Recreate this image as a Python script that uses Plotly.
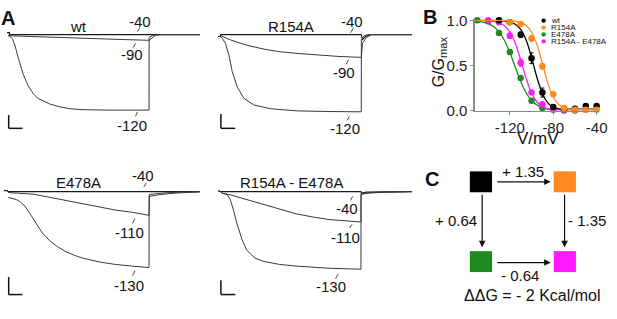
import plotly.graph_objects as go

W, H = 617, 319
FONT = "Liberation Sans, Arial, sans-serif"


def px(x):
    return x / W


def py(y):
    return 1 - y / H


# ---------------- Panel A data (time in ms, current in nA) ----------------
wt_t_m40 = [-12, 12, 14, 1940]
wt_i_m40 = [0.2, 0.2, 0.0, 0.0]
wt_t_m90 = [0, 200, 500, 800, 1100, 1427, 1450, 1490, 1540, 1940]
wt_i_m90 = [-0.12, -0.2, -0.3, -0.4, -0.5, -0.6, -0.45, -0.1, 0.0, 0.0]
wt_t_m120 = [0, 20, 45, 70, 103, 153, 203, 253, 300, 353, 420, 520, 620, 750, 1000, 1427, 1428, 1460, 1500, 1940]
wt_i_m120 = [-0.1, -0.2, -0.5, -1.2, -2.5, -4.2, -5.4, -6.2, -6.7, -7.0, -7.3, -7.6, -7.8, -7.9, -7.95, -7.95, -0.3, -0.1, 0.0, 0.0]

r_t_m40 = [-25, 0, 3, 1427, 1440, 1470, 1520, 1940]
r_i_m40 = [-0.2, -0.2, 0.0, 0.0, -0.5, -0.2, 0.0, 0.0]
r_t_m90 = [0, 100, 200, 300, 450, 600, 800, 1000, 1200, 1427, 1440, 1480, 1530, 1940]
r_i_m90 = [-0.1, -0.55, -0.9, -1.2, -1.55, -1.8, -2.0, -2.17, -2.3, -2.4, -0.9, -0.3, 0.0, 0.0]
r_t_m120 = [0, 20, 50, 87, 120, 170, 237, 337, 503, 770, 1100, 1427, 1428, 1460, 1500, 1940]
r_i_m120 = [-0.2, -0.4, -0.9, -2.2, -3.9, -5.5, -6.7, -7.4, -7.8, -8.03, -8.1, -8.13, -0.5, -0.1, 0.0, 0.0]

e_t_m40 = [-45, -10, 0, 1940]
e_i_m40 = [0.1, 0.1, 0.0, 0.0]
e_t_m110 = [0, 253, 420, 587, 750, 920, 1090, 1253, 1427, 1430, 1600, 1800, 1940]
e_i_m110 = [-0.1, -0.27, -0.6, -0.94, -1.3, -1.67, -1.95, -2.17, -2.5, -0.3, -0.12, -0.04, 0.0]
e_t_m130 = [0, 84, 125, 167, 210, 250, 292, 334, 377, 420, 500, 587, 670, 753, 920, 1087, 1253, 1427, 1428, 1550, 1700, 1940]
e_i_m130 = [-0.6, -0.84, -1.1, -1.5, -2.15, -2.84, -3.5, -4.17, -4.7, -5.17, -5.8, -6.34, -6.7, -7.0, -7.4, -7.67, -7.84, -8.0, -0.5, -0.3, -0.15, -0.03]

re_t_m40 = [-25, 0, 1424, 1430, 1480, 1940]
re_i_m40 = [0.1, 0.0, 0.0, -0.15, -0.05, 0.0]
re_t_m110 = [0, 17, 100, 267, 434, 600, 767, 934, 1100, 1424, 1425, 1600, 1940]
re_i_m110 = [0.0, -0.17, -0.34, -0.84, -1.4, -1.9, -2.34, -2.67, -2.94, -3.2, -0.2, -0.05, 0.0]
re_t_m130 = [0, 17, 67, 100, 134, 167, 217, 267, 350, 434, 600, 767, 1100, 1424, 1425, 1500, 1700, 1940]
re_i_m130 = [0.0, -0.17, -0.3, -0.84, -2.0, -3.34, -5.0, -6.17, -7.0, -7.34, -7.67, -7.84, -8.07, -8.17, -0.3, -0.15, -0.05, 0.0]

panel_titles = ["wt", "R154A", "E478A", "R154A - E478A"]

# ---------------- Panel B data ----------------
legend_names = ["wt", "R154A", "E478A", "R154A - E478A"]

wt_v = [-130, -120, -110, -100, -90, -80, -70, -60, -50, -40]
wt_g = [1.0, 0.98, 0.84, 0.58, 0.20, 0.04, 0.02, 0.02, 0.05, 0.05]
wt_err = [0.01, 0.01, 0.03, 0.06, 0.05, 0.02, 0.01, 0.01, 0.01, 0.01]

r_v = [-120, -110, -100, -90, -80, -70, -60, -50, -40]
r_g = [0.98, 0.96, 0.80, 0.49, 0.18, 0.03, 0.01, 0.01, 0.01]
r_err = [0.01, 0.01, 0.03, 0.03, 0.02, 0.01, 0.01, 0.01, 0.01]

e_v = [-150, -140, -130, -120, -110, -100, -90, -80, -70, -60]
e_g = [1.0, 0.99, 0.86, 0.65, 0.36, 0.11, 0.03, 0.01, 0.0, 0.0]
e_err = [0.01, 0.01, 0.02, 0.02, 0.02, 0.01, 0.01, 0.01, 0.01, 0.01]

re_v = [-140, -130, -120, -110, -100, -90, -80, -70, -60, -50]
re_g = [1.0, 0.98, 0.83, 0.53, 0.20, 0.07, 0.02, 0.01, 0.01, 0.01]
re_err = [0.01, 0.01, 0.03, 0.04, 0.02, 0.01, 0.01, 0.01, 0.01, 0.01]

fit_v = [-152, -145, -140, -135, -130, -125, -120, -115, -110, -105, -100, -95, -90, -85, -80, -75, -70, -65, -60, -50, -38]
fit_wt = [1.0, 1.0, 1.0, 0.999, 0.997, 0.993, 0.982, 0.956, 0.899, 0.781, 0.59, 0.367, 0.19, 0.086, 0.037, 0.02, 0.015, 0.015, 0.015, 0.015, 0.015]
fit_r = [1.0, 1.0, 1.0, 1.0, 0.999, 0.998, 0.996, 0.99, 0.977, 0.944, 0.871, 0.731, 0.523, 0.306, 0.151, 0.067, 0.028, 0.013, 0.01, 0.01, 0.01]
fit_e = [0.992, 0.981, 0.963, 0.931, 0.873, 0.78, 0.646, 0.483, 0.325, 0.198, 0.112, 0.061, 0.032, 0.017, 0.01, 0.008, 0.008, 0.008, 0.008, 0.008, 0.008]
fit_re = [1.0, 0.998, 0.995, 0.988, 0.973, 0.94, 0.872, 0.747, 0.562, 0.359, 0.195, 0.095, 0.044, 0.02, 0.012, 0.01, 0.01, 0.01, 0.01, 0.01, 0.01]

x_tick_vals = [-120, -80, -40]
x_tick_text = ["-120", "-80", "-40"]
y_tick_vals = [0.0, 0.5, 1.0]
y_tick_text = ["0.0", "0.5", "1.0"]

# ---------------- Panel C data ----------------
cycle_labels = ["+ 1.35", "- 1.35", "+ 0.64", "- 0.64"]
ddg_text = "ΔΔG = - 2 Kcal/mol"

COLORS = {"wt": "#000000", "R154A": "#FF8A1F", "E478A": "#1E8B1E", "R154A - E478A": "#FF1AFF"}

fig = go.Figure()

# ---------------- Panel A ----------------
panelA = [
    ("", 8.3, 28.0, (0, 206, 6, 135)),
    ("2", 223.3, 28.0, (212, 420, 6, 135)),
    ("3", 8.3, 193.3, (0, 206, 172, 312)),
    ("4", 223.3, 193.3, (212, 420, 172, 312)),
]
traces_A = [
    [(wt_t_m40, wt_i_m40), (wt_t_m90, wt_i_m90), (wt_t_m120, wt_i_m120)],
    [(r_t_m40, r_i_m40), (r_t_m90, r_i_m90), (r_t_m120, r_i_m120)],
    [(e_t_m40, e_i_m40), (e_t_m110, e_i_m110), (e_t_m130, e_i_m130)],
    [(re_t_m40, re_i_m40), (re_t_m110, re_i_m110), (re_t_m130, re_i_m130)],
]
layout_axes = {}
for (suf, start, base, (l, r, t, b)), trs in zip(panelA, traces_A):
    xa, ya = "x" + suf, "y" + suf
    layout_axes["xaxis" + suf] = dict(domain=[px(l), px(r)], range=[(l - start) * 10, (r - start) * 10],
                                      visible=False, anchor=ya, fixedrange=True)
    layout_axes["yaxis" + suf] = dict(domain=[py(b), py(t)], range=[-(b - base) / 10, -(t - base) / 10],
                                      visible=False, anchor=xa, fixedrange=True)
    for k, (tt, ii) in enumerate(trs):
        fig.add_trace(go.Scatter(x=tt, y=ii, mode="lines", xaxis=xa, yaxis=ya,
                                 line=dict(color="#1a1a1a" if k == 0 else "#3a3a3a", width=1.2 if k == 0 else 1.0),
                                 showlegend=False, hoverinfo="skip"))

# ---------------- Panel B ----------------
layout_axes["xaxis5"] = dict(domain=[px(481), px(607)], range=[-152.3, -37.7], anchor="y5",
                             showline=True, linecolor="#8a8a8a", linewidth=1.3, ticks="outside",
                             ticklen=3, tickcolor="#8a8a8a", tickvals=x_tick_vals, ticktext=x_tick_text,
                             tickfont=dict(size=15, color="#222", family=FONT), showgrid=False, zeroline=False,
                             fixedrange=True)
layout_axes["yaxis5"] = dict(domain=[py(108), py(12)], range=[0, 1.0105], anchor="x5",
                             showline=True, linecolor="#8a8a8a", linewidth=1.3, ticks="outside",
                             ticklen=3, tickcolor="#8a8a8a", tickvals=y_tick_vals, ticktext=y_tick_text,
                             tickfont=dict(size=15, color="#222", family=FONT), showgrid=False, zeroline=False,
                             fixedrange=True)

series = [
    ("E478A", e_v, e_g, e_err, fit_e),
    ("R154A - E478A", re_v, re_g, re_err, fit_re),
    ("wt", wt_v, wt_g, wt_err, fit_wt),
    ("R154A", r_v, r_g, r_err, fit_r),
]
for name, v, g, err, fit in series:
    c = COLORS[name]
    fig.add_trace(go.Scatter(x=fit_v, y=fit, mode="lines", line=dict(color=c, width=1.3, shape="spline"),
                             xaxis="x5", yaxis="y5", showlegend=False, hoverinfo="skip", cliponaxis=False))
    fig.add_trace(go.Scatter(x=v, y=g, mode="markers", marker=dict(color=c, size=6.5),
                             error_y=dict(type="data", array=err, color=c, thickness=1, width=2),
                             xaxis="x5", yaxis="y5", showlegend=False, hoverinfo="skip", cliponaxis=False))

annotations = []
shapes = []


def text(x, y, s, size=15, bold=False, xanchor="center", angle=0, color="#111"):
    annotations.append(dict(x=px(x), y=py(y), xref="paper", yref="paper", text=f"<b>{s}</b>" if bold else s,
                            showarrow=False, xanchor=xanchor, yanchor="middle", textangle=angle,
                            font=dict(size=size, family=FONT, color=color)))


def seg(x0, y0, x1, y1, color="#222", width=1.0):
    shapes.append(dict(type="line", xref="paper", yref="paper", x0=px(x0), y0=py(y0), x1=px(x1), y1=py(y1),
                       line=dict(color=color, width=width)))


text(8.5, 11, "A", size=20, bold=True)
text(436, 10, "B", size=20, bold=True)
text(438, 180, "C", size=20, bold=True)

text(80, 19, panel_titles[0])
text(295, 19, panel_titles[1])
text(80, 184, panel_titles[2])
text(295, 184, panel_titles[3])

volt_labels = [
    ("-40", 141.7, 14, (139.3, 25, 141.7, 20.7)),
    ("-90", 133.3, 49.3, (135, 41.7, 137.3, 37.3)),
    ("-120", 133.3, 124, (137.3, 114, 139.3, 109.3)),
    ("-40", 356.7, 14, (355, 26, 358.3, 20.7)),
    ("-90", 349, 67.7, (350.7, 59.3, 353.3, 54.3)),
    ("-120", 350, 126.7, (351.7, 118.3, 354, 114.3)),
    ("-40", 145, 176, (145.7, 188.3, 148.3, 184)),
    ("-110", 130.7, 236, (134.3, 226.7, 136.7, 221.7)),
    ("-130", 130.7, 291.7, (134.3, 281.7, 136.7, 276.7)),
    ("-40", 351.7, 210.7, (355, 202.7, 357.3, 198.3)),
    ("-110", 350, 241.7, (354, 231.7, 356.7, 227.7)),
    ("-130", 335, 293.3, (340, 285, 342.7, 280)),
]
for s, x, y, (a, b, c, d) in volt_labels:
    text(x, y, s)
    seg(a, b, c, d, color="#333", width=0.9)

for (x0, ytop, ybot, x1) in [(8.8, 112.7, 126.7, 22.7), (223.8, 111.7, 126.7, 238.3),
                             (8.8, 283.3, 301.7, 22.7), (223.8, 286.7, 301.7, 238.3)]:
    seg(x0, ytop, x0, ybot, color="#111", width=1.5)
    seg(x0, ybot, x1, ybot, color="#111", width=1.5)

text(445, 57, "G/G<sub>max</sub>", size=16, angle=-90)
text(545, 137, "V/mV", size=17)

for i, name in enumerate(legend_names):
    cy = 13.3 + i * 7.3
    shapes.append(dict(type="circle", xref="paper", yref="paper", x0=px(548.5), x1=px(553), y0=py(cy + 2.25),
                       y1=py(cy - 2.25), fillcolor=COLORS[name], line=dict(width=0)))
    text(556, cy, name, size=8, xanchor="left")

sq = [("wt", 476, 172), ("R154A", 561, 172), ("E478A", 476, 256), ("R154A - E478A", 561, 256)]
for name, x0, y0 in sq:
    shapes.append(dict(type="rect", xref="paper", yref="paper", x0=px(x0), x1=px(x0 + 22.5), y0=py(y0 + 22),
                       y1=py(y0), fillcolor=COLORS[name], line=dict(width=0)))

for (tx, ty, hx, hy) in [(503, 183, 558, 183), (503, 268, 558, 268), (488.5, 198, 488.5, 252), (572, 198, 572, 252)]:
    annotations.append(dict(x=px(hx), y=py(hy), xref="paper", yref="paper", ax=tx - hx, ay=ty - hy,
                            axref="pixel", ayref="pixel", text="", showarrow=True, arrowhead=2,
                            arrowsize=1.1, arrowwidth=1.2, arrowcolor="#111", standoff=0, startstandoff=0))

text(530, 172, cycle_labels[0])
text(595, 224, cycle_labels[1])
text(462, 224, cycle_labels[2])
text(527, 282, cycle_labels[3])
text(540, 303, ddg_text, size=16)

fig.update_layout(width=W, height=H, margin=dict(l=0, r=0, t=0, b=0), paper_bgcolor="white",
                  plot_bgcolor="rgba(0,0,0,0)", showlegend=False, annotations=annotations, shapes=shapes,
                  font=dict(family=FONT), **layout_axes)

fig.write_html("out.html", config={"staticPlot": True, "displayModeBar": False},
               post_script="document.body.style.margin='0';")
